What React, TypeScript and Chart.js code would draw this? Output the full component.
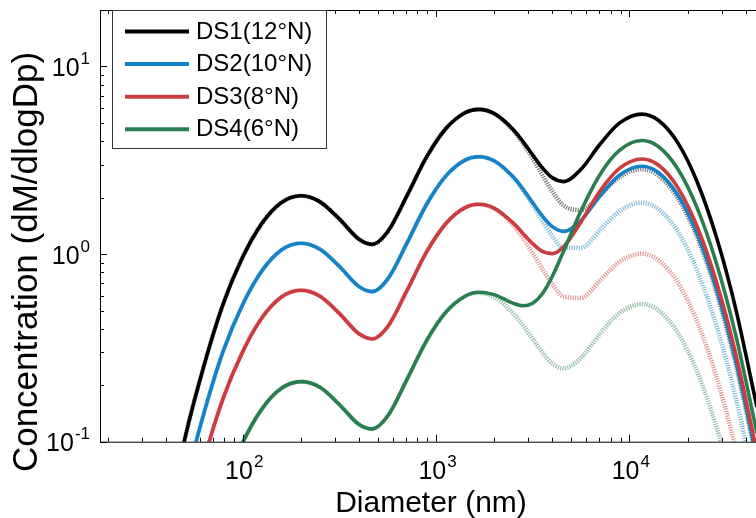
import React, { useEffect, useRef } from "react";
import { Chart, registerables } from "chart.js";

Chart.register(...registerables);

// Particle diameter (nm)
const diameters = [45, 50, 63, 79, 100, 126, 158, 200, 251, 316, 398, 468, 562, 708, 891, 1122, 1413, 1660, 1995, 2512, 2818, 3162, 3548, 3981, 4571, 5623, 7079, 8913, 11614, 14125, 17783, 22387, 28184, 35481, 45709];

// Solid curves (dM/dlogDp)
const ds1 = [0.060, 0.102, 0.254, 0.538, 0.964, 1.462, 1.877, 2.045, 1.899, 1.540, 1.204, 1.127, 1.315, 2.051, 3.275, 4.657, 5.669, 5.91, 5.621, 4.605, 3.979, 3.379, 2.886, 2.557, 2.435, 2.833, 3.875, 5.003, 5.575, 5.167, 3.929, 2.439, 1.236, 0.512, 0.153];
const ds2 = [0.034, 0.057, 0.142, 0.301, 0.539, 0.817, 1.049, 1.143, 1.061, 0.861, 0.673, 0.631, 0.735, 1.147, 1.832, 2.604, 3.171, 3.305, 3.143, 2.572, 2.220, 1.880, 1.597, 1.405, 1.322, 1.511, 2.049, 2.639, 2.939, 2.723, 2.071, 1.285, 0.651, 0.270, 0.081];
const ds3 = [0.019, 0.032, 0.080, 0.169, 0.302, 0.459, 0.589, 0.642, 0.596, 0.483, 0.377, 0.353, 0.410, 0.640, 1.022, 1.452, 1.768, 1.845, 1.760, 1.463, 1.289, 1.136, 1.034, 1.006, 1.094, 1.484, 2.180, 2.870, 3.215, 2.983, 2.268, 1.408, 0.714, 0.295, 0.088];
const ds4 = [0.006, 0.010, 0.026, 0.055, 0.099, 0.150, 0.192, 0.209, 0.195, 0.158, 0.124, 0.117, 0.137, 0.215, 0.344, 0.489, 0.596, 0.626, 0.608, 0.546, 0.530, 0.547, 0.615, 0.755, 1.037, 1.701, 2.675, 3.582, 4.032, 3.745, 2.848, 1.768, 0.896, 0.371, 0.111];

// Hatched (light) curves
const ds1Alt = [0.060, 0.102, 0.254, 0.538, 0.964, 1.462, 1.877, 2.045, 1.899, 1.540, 1.204, 1.127, 1.315, 2.051, 3.275, 4.657, 5.669, 5.905, 5.607, 4.555, 3.890, 3.227, 2.637, 2.170, 1.815, 1.717, 2.073, 2.572, 2.835, 2.621, 1.993, 1.237, 0.627, 0.259, 0.078];
const ds2Alt = [0.034, 0.057, 0.142, 0.301, 0.539, 0.817, 1.049, 1.143, 1.061, 0.861, 0.673, 0.631, 0.735, 1.147, 1.832, 2.604, 3.171, 3.303, 3.137, 2.553, 2.185, 1.821, 1.501, 1.255, 1.082, 1.080, 1.351, 1.698, 1.879, 1.738, 1.322, 0.820, 0.416, 0.172, 0.051];
const ds3Alt = [0.019, 0.032, 0.080, 0.169, 0.302, 0.459, 0.589, 0.642, 0.596, 0.483, 0.377, 0.353, 0.410, 0.640, 1.022, 1.452, 1.768, 1.842, 1.749, 1.423, 1.217, 1.014, 0.834, 0.694, 0.594, 0.584, 0.726, 0.909, 1.005, 0.929, 0.707, 0.439, 0.222, 0.092, 0.028];
const ds4Alt = [0.006, 0.010, 0.026, 0.055, 0.099, 0.150, 0.192, 0.209, 0.195, 0.158, 0.124, 0.117, 0.137, 0.215, 0.344, 0.489, 0.596, 0.621, 0.591, 0.483, 0.417, 0.353, 0.299, 0.262, 0.246, 0.280, 0.378, 0.486, 0.542, 0.502, 0.382, 0.237, 0.120, 0.050, 0.015];

const seriesLabels = ["DS1(12°N)", "DS2(10°N)", "DS3(8°N)", "DS4(6°N)"];
const xTickExps = [2, 3, 4];
const yTickExps = [-1, 0, 1];
const xTitle = "Diameter (nm)";
const yTitle = "Concentration (dM/dlogDp)";

const COLORS = ["#000000", "#1681C6", "#CC3B3D", "#2A7D4F"];
const ALT_COLORS = ["rgba(70,70,70,0.7)", "rgba(110,180,212,0.85)", "rgba(215,130,130,0.8)", "rgba(125,175,145,0.8)"];
const FONT = '"Liberation Sans", Arial, Helvetica, sans-serif';

function pts(vals: number[]) {
  return diameters.map((d, i) => ({ x: d, y: vals[i] }));
}

function drawPower(ctx: CanvasRenderingContext2D, exp: number, x: number, y: number, align: string) {
  const base = 25;
  const sup = 17;
  ctx.font = `${base}px ${FONT}`;
  const w1 = ctx.measureText("10").width;
  const e = String(exp);
  ctx.font = `${sup}px ${FONT}`;
  const w2 = ctx.measureText(e).width;
  const x0 = align === "center" ? x - (w1 + w2) / 2 : x - (w1 + w2);
  ctx.textAlign = "left";
  ctx.textBaseline = "alphabetic";
  ctx.fillStyle = "#000";
  ctx.font = `${base}px ${FONT}`;
  ctx.fillText("10", x0, y);
  ctx.font = `${sup}px ${FONT}`;
  ctx.fillText(e, x0 + w1 + 1, y - 12);
}

const framePlugin = {
  id: "framePlugin",
  afterDatasetsDraw(chart: any) {
    const ctx: CanvasRenderingContext2D = chart.ctx;
    const { left, right, top, bottom } = chart.chartArea;
    const xs = chart.scales.x;
    const ys = chart.scales.y;
    ctx.save();
    ctx.strokeStyle = "#000";
    ctx.lineWidth = 1;
    ctx.beginPath();
    ctx.moveTo(left + 0.5, top);
    ctx.lineTo(left + 0.5, bottom + 0.5);
    ctx.lineTo(right, bottom + 0.5);
    ctx.moveTo(left, top + 0.5);
    ctx.lineTo(right, top + 0.5);
    for (let k = 1; k <= 5; k++) {
      for (let m = 1; m <= 9; m++) {
        const v = m * Math.pow(10, k);
        if (v < xs.min || v > xs.max) continue;
        const px = Math.round(xs.getPixelForValue(v)) + 0.5;
        const len = m === 1 ? 7 : 4;
        ctx.moveTo(px, bottom);
        ctx.lineTo(px, bottom - len);
        ctx.moveTo(px, top);
        ctx.lineTo(px, top + len);
      }
    }
    for (let k = -1; k <= 1; k++) {
      for (let m = 1; m <= 9; m++) {
        const v = m * Math.pow(10, k);
        if (v < ys.min || v > ys.max) continue;
        const py = Math.round(ys.getPixelForValue(v)) + 0.5;
        const len = m === 1 ? 7 : 4;
        ctx.moveTo(left, py);
        ctx.lineTo(left + len, py);
      }
    }
    ctx.stroke();

    // tick labels
    xTickExps.forEach((e) => {
      const px = xs.getPixelForValue(Math.pow(10, e));
      drawPower(ctx, e, px + 1, bottom + 37.5, "center");
    });
    yTickExps.forEach((e) => {
      const py = ys.getPixelForValue(Math.pow(10, e));
      drawPower(ctx, e, 89, py + 9.5, "right");
    });

    // axis titles
    ctx.fillStyle = "#000";
    ctx.textAlign = "center";
    ctx.textBaseline = "alphabetic";
    ctx.font = `30px ${FONT}`;
    ctx.fillText(xTitle, (left + right) / 2 + 3, 511.5);
    ctx.save();
    ctx.font = `35px ${FONT}`;
    ctx.translate(37, 262);
    ctx.rotate(-Math.PI / 2);
    ctx.fillText(yTitle, 0, 0);
    ctx.restore();

    // legend
    const lx = 112.5, ly = 10.5, lw = 214, lh = 138;
    ctx.fillStyle = "#fff";
    ctx.fillRect(lx, ly, lw, lh);
    ctx.strokeStyle = "#333";
    ctx.lineWidth = 1;
    ctx.strokeRect(lx, ly, lw, lh);
    seriesLabels.forEach((lab, i) => {
      const base = 38.5 + i * 32.6;
      ctx.strokeStyle = COLORS[i];
      ctx.lineWidth = 4;
      ctx.beginPath();
      ctx.moveTo(125, base - 7);
      ctx.lineTo(189, base - 7);
      ctx.stroke();
      ctx.fillStyle = "#000";
      ctx.font = `24px ${FONT}`;
      ctx.textAlign = "left";
      ctx.textBaseline = "alphabetic";
      ctx.fillText(lab, 196, base);
    });
    ctx.restore();
  },
};

export default function App() {
  const ref = useRef<HTMLCanvasElement>(null);
  useEffect(() => {
    if (!ref.current) return;
    const solids = [ds1, ds2, ds3, ds4];
    const alts = [ds1Alt, ds2Alt, ds3Alt, ds4Alt];
    const solidSets = [3, 2, 1, 0].map((i) => ({
      label: seriesLabels[i],
      data: pts(solids[i]),
      borderColor: COLORS[i],
      backgroundColor: COLORS[i],
      borderWidth: 3.6,
      pointRadius: 0,
      cubicInterpolationMode: "monotone" as const,
      fill: false,
      clip: 0,
    }));
    const altSets = [0, 1, 2, 3].map((i) => ({
      label: seriesLabels[i] + " fit",
      data: pts(alts[i]),
      borderColor: ALT_COLORS[i],
      backgroundColor: ALT_COLORS[i],
      borderWidth: 4.5,
      borderDash: [1.2, 1.2],
      pointRadius: 0,
      cubicInterpolationMode: "monotone" as const,
      fill: false,
      clip: 0,
    }));
    const chart = new Chart(ref.current, {
      type: "line",
      data: { datasets: [...solidSets, ...altSets] as any },
      options: {
        responsive: false,
        animation: false,
        devicePixelRatio: 1,
        layout: { padding: { top: 10, right: 0, left: 0, bottom: 0 } },
        plugins: { legend: { display: false }, tooltip: { enabled: false } },
        scales: {
          x: {
            type: "logarithmic",
            min: 18.27,
            max: 45200,
            grid: { display: false },
            border: { display: false },
            ticks: { display: false },
            afterFit: (s: any) => { s.height = 76.3; },
          },
          y: {
            type: "logarithmic",
            min: 0.1,
            max: 20,
            grid: { display: false },
            border: { display: false },
            ticks: { display: false },
            afterFit: (s: any) => { s.width = 100; },
          },
        },
      },
      plugins: [framePlugin],
    });
    return () => chart.destroy();
  }, []);
  return (
    <div style={{ position: "absolute", left: 0, top: 0, width: 756, height: 518, background: "#fff" }}>
      <canvas ref={ref} width={756} height={518} style={{ display: "block" }} />
    </div>
  );
}
